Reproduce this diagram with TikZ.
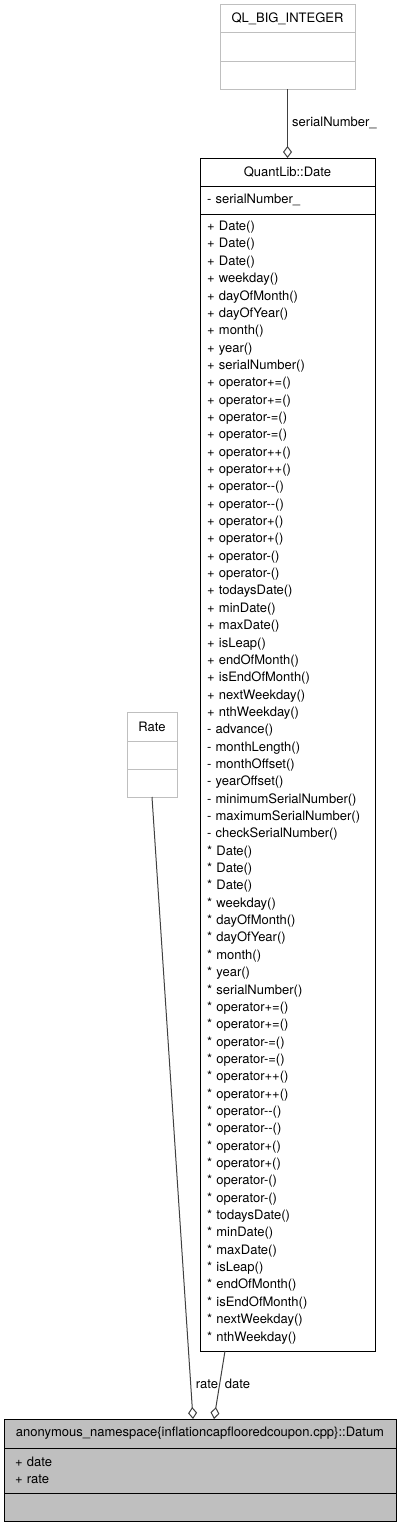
\documentclass[tikz,border=0pt]{standalone}
\usepackage{fontspec}
\setmainfont{TeX Gyre Heros}
\usetikzlibrary{arrows.meta,positioning}

\definecolor{boxgray}{rgb}{0.75,0.75,0.75}
\definecolor{edgegray}{rgb}{0.25,0.25,0.25}

\tikzset{
  classpart/.style={draw=#1, line width=1pt, outer sep=0pt, inner xsep=7pt,
    inner ysep=0pt, align=left, font=\fontsize{13}{17.35}\selectfont},
  classhead/.style={classpart=#1, align=center},
  aggregation/.style={draw=edgegray, line width=1pt,
    -{Diamond[open, length=12pt, width=9pt, line width=1pt]}},
  rolelabel/.style={font=\fontsize{13}{15}\selectfont, inner sep=0pt}
}

\begin{document}
\begin{tikzpicture}[x=1pt,y=-1pt]
\useasboundingbox (0,0) rectangle (400,1528);

% Drawing class QL_BIG_INTEGER
\node[classhead=boxgray, text width=121pt, minimum height=28pt, anchor=north] (bigHead) at (287.5,5) {QL\_BIG\_INTEGER};
\node[classpart=boxgray, text width=121pt, minimum height=29pt, below=0pt of bigHead] (bigAttr) {};
\node[classpart=boxgray, text width=121pt, minimum height=27pt, below=0pt of bigAttr] (bigMeth) {};

% Drawing class QuantLib::Date
\node[classhead=black, text width=161pt, minimum height=28pt, anchor=north] (dateHead) at (287.5,158) {QuantLib::Date};
\node[classpart=black, text width=161pt, minimum height=28pt, below=0pt of dateHead] (dateAttr) {- serialNumber\_};
\node[classpart=black, text width=161pt, minimum height=1137pt, below=0pt of dateAttr] (dateMeth) {%
+ Date()\\+ Date()\\+ Date()\\+ weekday()\\+ dayOfMonth()\\+ dayOfYear()\\+ month()\\+ year()\\
+ serialNumber()\\+ operator+=()\\+ operator+=()\\+ operator-=()\\+ operator-=()\\
+ operator++()\\+ operator++()\\+ operator-{}-()\\+ operator-{}-()\\+ operator+()\\+ operator+()\\
+ operator-()\\+ operator-()\\+ todaysDate()\\+ minDate()\\+ maxDate()\\+ isLeap()\\
+ endOfMonth()\\+ isEndOfMonth()\\+ nextWeekday()\\+ nthWeekday()\\
- advance()\\- monthLength()\\- monthOffset()\\- yearOffset()\\- minimumSerialNumber()\\
- maximumSerialNumber()\\- checkSerialNumber()\\
{*} Date()\\{*} Date()\\{*} Date()\\{*} weekday()\\{*} dayOfMonth()\\{*} dayOfYear()\\{*} month()\\{*} year()\\
{*} serialNumber()\\{*} operator+=()\\{*} operator+=()\\{*} operator-=()\\{*} operator-=()\\
{*} operator++()\\{*} operator++()\\{*} operator-{}-()\\{*} operator-{}-()\\{*} operator+()\\{*} operator+()\\
{*} operator-()\\{*} operator-()\\{*} todaysDate()\\{*} minDate()\\{*} maxDate()\\{*} isLeap()\\
{*} endOfMonth()\\{*} isEndOfMonth()\\{*} nextWeekday()\\{*} nthWeekday()};

% Drawing class Rate
\node[classhead=boxgray, text width=36pt, minimum height=29pt, anchor=north] (rateHead) at (152,712) {Rate};
\node[classpart=boxgray, text width=36pt, minimum height=28pt, below=0pt of rateHead] (rateAttr) {};
\node[classpart=boxgray, text width=36pt, minimum height=28pt, below=0pt of rateAttr] (rateMeth) {};

% Drawing class Datum
\node[classhead=black, fill=boxgray, text width=378pt, minimum height=29pt, anchor=north] (datumHead) at (200,1419) {anonymous\_namespace\{inflationcapflooredcoupon.cpp\}::Datum};
\node[classpart=black, fill=boxgray, inner xsep=11pt, text width=370pt, minimum height=45pt, below=0pt of datumHead] (datumAttr) {+ date\\+ rate};
\node[classpart=black, fill=boxgray, text width=378pt, minimum height=28pt, below=0pt of datumAttr] (datumMeth) {};

% Drawing aggregations
\coordinate (dateFoot) at (225,1351);
\coordinate (rateTip) at (193,1419);
\coordinate (dateTip) at (214,1419);
\draw[aggregation] (bigMeth.south) -- (dateHead.north);
\draw[aggregation] (rateMeth.south) -- (rateTip);
\draw[aggregation] (dateFoot) -- (dateTip);

% Drawing role labels
\node[rolelabel, anchor=west] (serialLbl) at (292,123) {serialNumber\_};
\node[rolelabel] (rateLbl) at (207,1384) {rate};
\node[rolelabel] (dateLbl) at (237.5,1384) {date};
\end{tikzpicture}
\end{document}
